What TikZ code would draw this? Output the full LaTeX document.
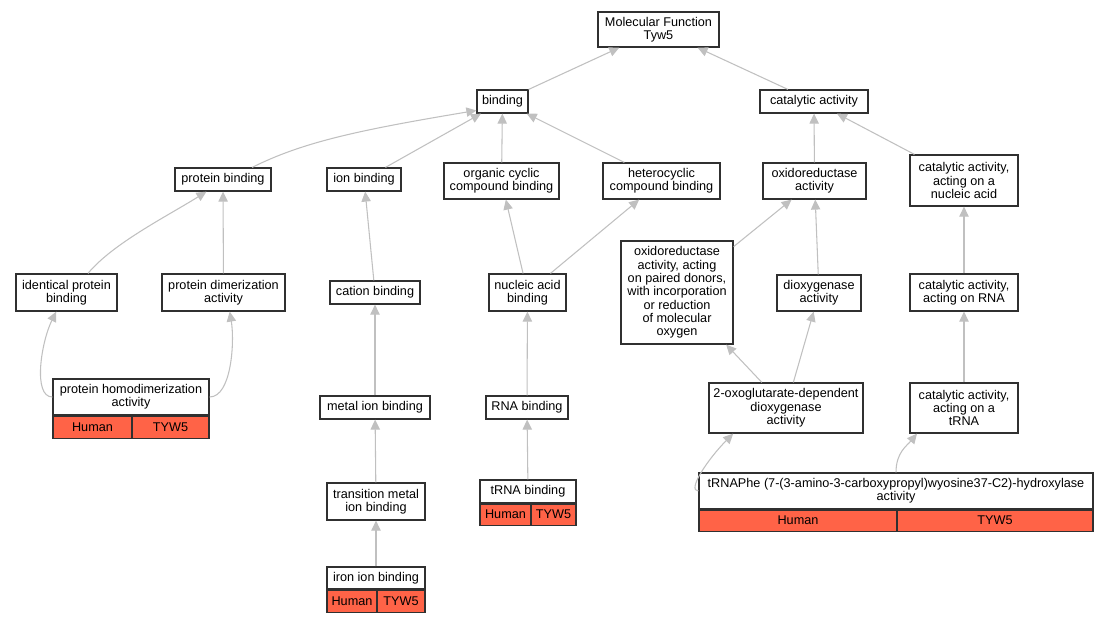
\documentclass[tikz,border=0pt]{standalone}
\usepackage{fontspec}
\setmainfont{Liberation Sans}
\usetikzlibrary{arrows.meta,calc}
\definecolor{hitred}{HTML}{FF6347}
\definecolor{edgegray}{HTML}{C0C0C0}
\definecolor{boxline}{HTML}{303030}

\begin{document}
\begin{tikzpicture}[x=0.75pt,y=-0.75pt,
		term/.style={draw=boxline, line width=0.9pt, fill=white, align=center, inner sep=1pt, font=\fontsize{9.5}{10}\selectfont},
		cell/.style={term, fill=hitred},
		sz/.style 2 args={minimum width=#1*0.75pt, minimum height=#2*0.75pt},
		isa/.style={draw=edgegray, line width=0.8pt, -{Triangle[length=7.5pt,width=7pt]}}]
		
		\useasboundingbox (0,0) rectangle (1108,621);
		
		\node[term, sz={121}{35}] (mf) at (658.5,29.5) {Molecular Function\\Tyw5};
		\node[term, sz={51}{23}] (bind) at (502.5,101.5) {binding};
		\node[term, sz={108}{23}] (cat) at (814,101.5) {catalytic activity};
		
		\node[term, sz={96}{23}] (pbind) at (223,179.5) {protein binding};
		\node[term, sz={74}{23}] (ionb) at (364,179.5) {ion binding};
		\node[term, sz={115}{36}] (occb) at (501.5,181) {organic cyclic\\compound binding};
		\node[term, sz={117}{36}] (hccb) at (661.5,181) {heterocyclic\\compound binding};
		\node[term, sz={103}{36}] (oxr) at (814.5,181) {oxidoreductase\\activity};
		\node[term, sz={108}{51}] (catna) at (964,180.5) {catalytic activity,\\acting on a\\nucleic acid};
		
		\node[term, sz={101}{37}] (ipb) at (66.5,292.5) {identical protein\\binding};
		\node[term, sz={123}{37}] (pda) at (223.5,292.5) {protein dimerization\\activity};
		\node[term, sz={90}{23}] (catb) at (375,292.5) {cation binding};
		\node[term, sz={77}{37}] (nab) at (527.5,292.5) {nucleic acid\\binding};
		\node[term, sz={112}{103}] (oxpd) at (677,292.5) {oxidoreductase\\activity, acting\\on paired donors,\\with incorporation\\or reduction\\of molecular\\oxygen};
		\node[term, sz={84}{36}] (diox) at (819,293) {dioxygenase\\activity};
		\node[term, sz={108}{37}] (catrna) at (964,292.5) {catalytic activity,\\acting on RNA};
		
		\node[term, sz={110}{23}] (metb) at (375,407.5) {metal ion binding};
		\node[term, sz={82}{23}] (rnab) at (527,407.5) {RNA binding};
		\node[term, sz={154}{50}] (oxog) at (786,408) {2-oxoglutarate-dependent\\dioxygenase\\activity};
		\node[term, sz={108}{50}] (catt) at (964,408) {catalytic activity,\\acting on a\\tRNA};
		\node[term, sz={98}{37}] (tmib) at (376,501.5) {transition metal\\ion binding};
		
		\node[term, sz={156}{36}] (phd) at (131,397) {protein homodimerization\\activity};
		\node[cell, sz={79}{22}, anchor=north west] (phdh) at (phd.south west) {Human};
		\node[cell, sz={77}{22}, anchor=north east] (phdt) at (phd.south east) {TYW5};
		
		\node[term, sz={96}{23}] (trnab) at (528,491.5) {tRNA binding};
		\node[cell, sz={51}{21}, anchor=north west] (trnabh) at (trnab.south west) {Human};
		\node[cell, sz={45}{21}, anchor=north east] (trnabt) at (trnab.south east) {TYW5};
		
		\node[term, sz={98}{22}] (iron) at (376,578) {iron ion binding};
		\node[cell, sz={50}{22}, anchor=north west] (ironh) at (iron.south west) {Human};
		\node[cell, sz={48}{22}, anchor=north east] (iront) at (iron.south east) {TYW5};
		
		\node[term, sz={394}{36}] (trnaphe) at (896,491) {tRNAPhe (7-(3-amino-3-carboxypropyl)wyosine37-C2)-hydroxylase\\activity};
		\node[cell, sz={198}{21}, anchor=north west] (trnapheh) at (trnaphe.south west) {Human};
		\node[cell, sz={196}{21}, anchor=north east] (trnaphet) at (trnaphe.south east) {TYW5};
		
		\draw[isa] (bind) -- (mf);
		\draw[isa] (cat) -- (mf);
		\draw[isa] ($(pbind.north west)!0.8!(pbind.north east)$) .. controls +(50,-25) and +(-120,20) .. ($(bind.south west)!0.13!(bind.north west)$);
		\draw[isa] (ionb) -- (bind);
		\draw[isa] (occb) -- (bind);
		\draw[isa] (hccb) -- (bind);
		\draw[isa] (oxr) -- (cat);
		\draw[isa] (catna) -- (cat);
		\draw[isa] ($(ipb.north west)!0.71!(ipb.north east)$) .. controls +(25,-30) and +(-40,25) .. ($(pbind.south west)!0.33!(pbind.south east)$);
		\draw[isa] (pda) -- (pbind);
		\draw[isa] (catb) -- (ionb);
		\draw[isa] (nab) -- (occb);
		\draw[isa] (nab) -- (hccb);
		\draw[isa] (oxpd) -- (oxr);
		\draw[isa] (diox) -- (oxr);
		\draw[isa] (catrna) -- (catna);
		\draw[isa] (metb) -- (catb);
		\draw[isa] (rnab) -- (nab);
		\draw[isa] (oxog) -- (oxpd);
		\draw[isa] (oxog) -- (diox);
		\draw[isa] (catt) -- (catrna);
		\draw[isa] (tmib) -- (metb);
		\draw[isa] (trnab) -- (rnab);
		\draw[isa] (iron) -- (tmib);
		\draw[isa] (phd.west) .. controls +(-20,0) and +(-15,30) .. ($(ipb.south west)!0.4!(ipb.south east)$);
		\draw[isa] (phd.east) .. controls +(22,0) and +(5,30) .. ($(pda.south west)!0.55!(pda.south east)$);
		\draw[isa] (trnaphe.west) .. controls +(-12,0) and +(-25,25) .. ($(oxog.south west)!0.16!(oxog.south east)$);
		\draw[isa] (trnaphe.north) .. controls +(0,-20) and +(-10,12) .. ($(catt.south west)!0.07!(catt.south east)$);
		
	\end{tikzpicture}
\end{document}
